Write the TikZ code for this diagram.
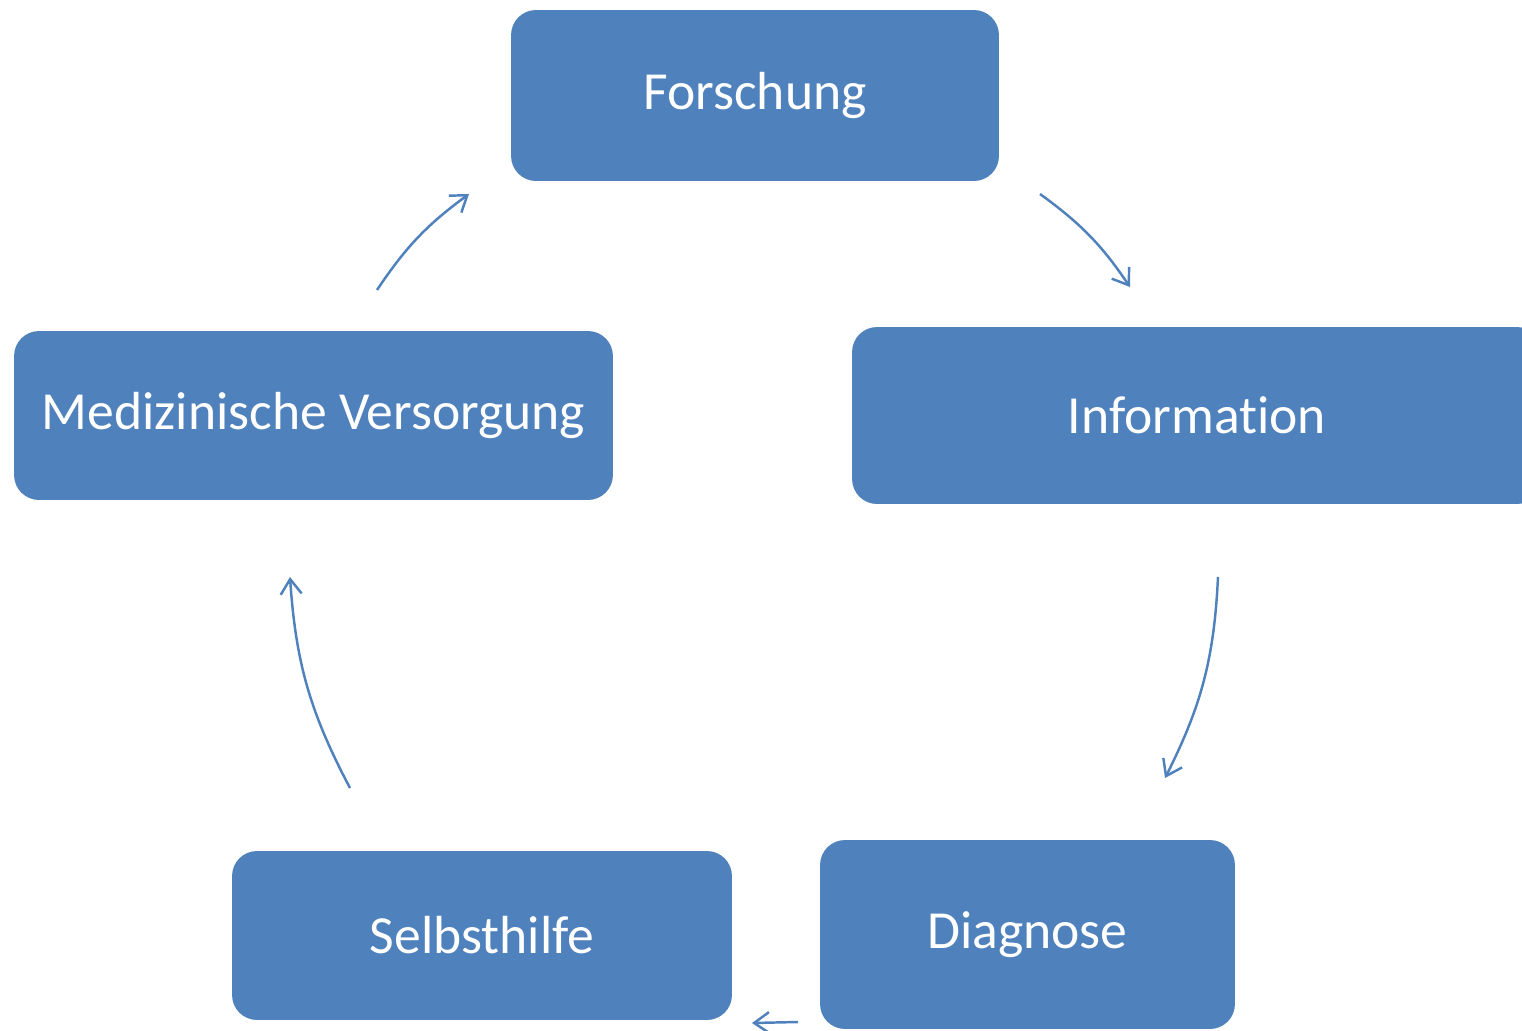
\documentclass[tikz,border=0pt]{standalone}
\usepackage{fontspec}
\setmainfont{Carlito}[Ligatures=NoCommon]
\usepackage{tikz}
\usetikzlibrary{arrows.meta}
\usetikzlibrary{positioning}

\definecolor{boxblue}{HTML}{4F81BD}

\begin{document}
\begin{tikzpicture}[x=0.02cm, y=-0.02cm]
	\useasboundingbox (0,0) rectangle (1522,1031);

	\begin{scope}[every node/.style={rectangle, rounded corners=0.5cm, fill=boxblue,
	              text=white, inner sep=0pt, font=\fontsize{30.5}{36}\selectfont}]
		\node[minimum width=9.76cm, minimum height=3.42cm] (forschung) at (755,95.5) {Forschung};
		\node[minimum width=13.8cm, minimum height=3.54cm] (information) at (1197,415.5) {Information};
		\node[minimum width=8.3cm, minimum height=3.78cm] (diagnose) at (1027.5,934.5) {Diagnose};
		\node[minimum width=10cm, minimum height=3.38cm] (selbsthilfe) at (482,935.5) {Selbsthilfe};
		\node[minimum width=11.98cm, minimum height=3.38cm] (versorgung) at (313.5,415.5) {Medizinische Versorgung};
	\end{scope}

	% arrow ends
	\coordinate (a1) at (1040,194);
	\coordinate (b1) at (1130,287);
	\coordinate (a2) at (1218,577);
	\coordinate (b2) at (1165,778);
	\coordinate (a3) at (798,1022);
	\coordinate (b3) at (752,1023);
	\coordinate (a4) at (350,788);
	\coordinate (b4) at (290,577);
	\coordinate (a5) at (377,290);
	\coordinate (b5) at (469,194);

	\begin{scope}[>={Straight Barb[length=0.3cm, width=0.42cm]},
	              every edge/.style={draw=boxblue, line width=1.4pt, ->}]
		\path (a1) edge[bend left=10] (b1);
		\path (a2) edge[bend left=12] (b2);
		\path (a3) edge (b3);
		\path (a4) edge[bend left=12] (b4);
		\path (a5) edge[bend left=10] (b5);
	\end{scope}
\end{tikzpicture}
\end{document}
